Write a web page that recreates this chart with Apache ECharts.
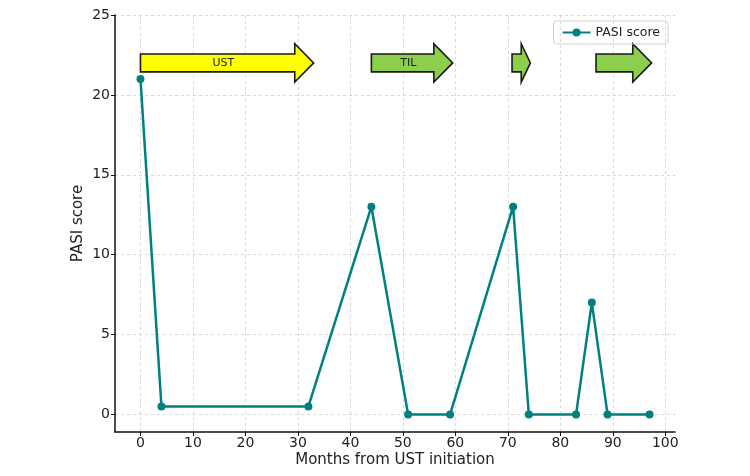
<!DOCTYPE html>
<html>
<head>
<meta charset="utf-8">
<script src="https://cdn.jsdelivr.net/npm/echarts@6/dist/echarts.min.js"></script>
<style>
  html, body { margin: 0; padding: 0; background: #fff; }
  #main { width: 750px; height: 476px; }
</style>
</head>
<body>
<div id="main"></div>
<script>
// PASI score over time
const months = [0, 4, 32, 44, 51, 59, 71, 74, 83, 86, 89, 97];
const pasi = [21, 0.5, 0.5, 13, 0, 0, 13, 0, 0, 7, 0, 0];

// treatment arrows: start month, end month (tip), label
const arrowStart = [0, 44, 70.8, 86.8];
const arrowEnd = [33, 59.5, 74.3, 97.4];
const arrowLabel = ['UST', 'TIL', '', ''];
const arrowColor = ['#ffff00', '#8ccf4d', '#8ccf4d', '#8ccf4d'];
const arrowY = 22;

const xTicks = [0, 10, 20, 30, 40, 50, 60, 70, 80, 90, 100];
const yTicks = [0, 5, 10, 15, 20, 25];

var chartDom = document.getElementById('main');
var myChart = echarts.init(chartDom);

const lineData = months.map((m, i) => [m, pasi[i]]);
const arrowData = arrowStart.map((s, i) => [s, arrowEnd[i], arrowY, i]);

const font = 'DejaVu Sans';

function renderArrow(params, api) {
    const x0 = api.value(0), x1 = api.value(1), yc = api.value(2);
    const idx = api.value(3);
    const head = Math.min(3.6, (x1 - x0) * 0.5);
    const bh = 0.56, hh = 1.2;
    const pts = [
        [x0, yc + bh], [x1 - head, yc + bh], [x1 - head, yc + hh], [x1, yc],
        [x1 - head, yc - hh], [x1 - head, yc - bh], [x0, yc - bh]
    ].map(p => api.coord(p));
    const children = [{
        type: 'polygon',
        shape: { points: pts },
        style: { fill: arrowColor[idx], stroke: '#1a1a1a', lineWidth: 1.6, lineJoin: 'miter' }
    }];
    if (arrowLabel[idx]) {
        const c = api.coord([(x0 + x1) / 2 - head * 0.2, yc]);
        children.push({
            type: 'text',
            style: {
                x: c[0], y: c[1], text: arrowLabel[idx],
                align: 'center', verticalAlign: 'middle',
                fill: '#222', font: '11px "DejaVu Sans"'
            }
        });
    }
    return { type: 'group', children: children };
}

var option = {
    animation: false,
    backgroundColor: '#fff',
    textStyle: { fontFamily: font },
    grid: { left: 115, right: 75, top: 15, bottom: 44 },
    legend: {
        data: ['PASI score'],
        right: 82,
        top: 21,
        padding: [5, 8],
        itemWidth: 28,
        itemHeight: 10,
        itemGap: 6,
        borderColor: '#d0d0d0',
        borderWidth: 1,
        borderRadius: 3,
        textStyle: { fontFamily: font, fontSize: 12.5, color: '#222' }
    },
    xAxis: {
        type: 'value',
        min: -4.85,
        max: 101.85,
        name: 'Months from UST initiation',
        nameLocation: 'middle',
        nameGap: 21,
        nameMoveOverlap: false,
        nameTextStyle: { fontFamily: font, fontSize: 15, color: '#222' },
        axisLine: { onZero: false, lineStyle: { color: '#111', width: 1.5 } },
        axisTick: { show: true, length: 4, customValues: xTicks, lineStyle: { color: '#111' } },
        axisLabel: { customValues: xTicks, margin: 4, fontFamily: font, fontSize: 14, color: '#222' },
        splitLine: { show: true, lineStyle: { type: [3, 3], color: '#cfcfcf', width: 0.8 } }
    },
    yAxis: {
        type: 'value',
        min: -1.1,
        max: 25,
        name: 'PASI score',
        nameLocation: 'middle',
        nameGap: 29,
        nameMoveOverlap: false,
        nameTextStyle: { fontFamily: font, fontSize: 15, color: '#222' },
        axisLine: { show: true, onZero: false, lineStyle: { color: '#111', width: 1.5 } },
        axisTick: { show: true, length: 4, customValues: yTicks, lineStyle: { color: '#111' } },
        axisLabel: { customValues: yTicks, margin: 5, fontFamily: font, fontSize: 14, color: '#222' },
        splitLine: { show: true, lineStyle: { type: [3, 3], color: '#cfcfcf', width: 0.8 } }
    },
    series: [
        {
            name: 'arrows',
            type: 'custom',
            renderItem: renderArrow,
            data: arrowData,
            encode: { x: [0, 1], y: 2 },
            z: 3,
            silent: true
        },
        {
            name: 'PASI score',
            type: 'line',
            data: lineData,
            symbol: 'circle',
            symbolSize: 8,
            color: '#008080',
            lineStyle: { width: 2.5, color: '#008080' },
            itemStyle: { color: '#008080' },
            z: 2
        }
    ]
};

option && myChart.setOption(option);
</script>
</body>
</html>
